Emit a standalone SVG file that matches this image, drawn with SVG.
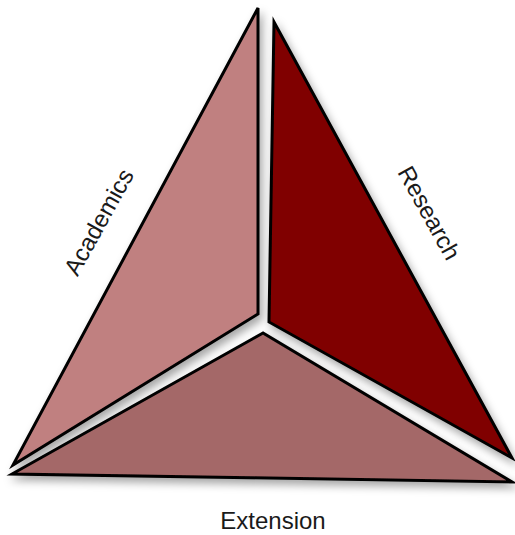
<svg xmlns="http://www.w3.org/2000/svg" width="515" height="535" viewBox="0 0 515 535">
<defs>
<filter id="sh" x="-10%" y="-10%" width="130%" height="130%">
<feDropShadow dx="3" dy="5" stdDeviation="4" flood-color="#000" flood-opacity="0.35"/>
</filter>
</defs>
<style>
.tri{stroke:#000;stroke-width:3;stroke-linejoin:miter;filter:url(#sh)}
.lbl{font-family:"Liberation Sans",Arial,sans-serif;font-size:24px;fill:#1a1a1a;text-anchor:middle}
</style>
<rect width="515" height="535" fill="#fff"/>
<g id="academics">
<polygon class="tri" points="258,8 258,314 13,465" fill="#C08080"/>
<text class="lbl" transform="translate(106,226) rotate(-61)">Academics</text>
</g>
<g id="research">
<polygon class="tri" points="274,22 269,322 512,458" fill="#800000"/>
<text class="lbl" transform="translate(422,217) rotate(61)">Research</text>
</g>
<g id="extension">
<polygon class="tri" points="263,333 12,474 512,482" fill="#A46868"/>
<text class="lbl" x="273" y="529">Extension</text>
</g>
<g id="connectors"/>
</svg>
